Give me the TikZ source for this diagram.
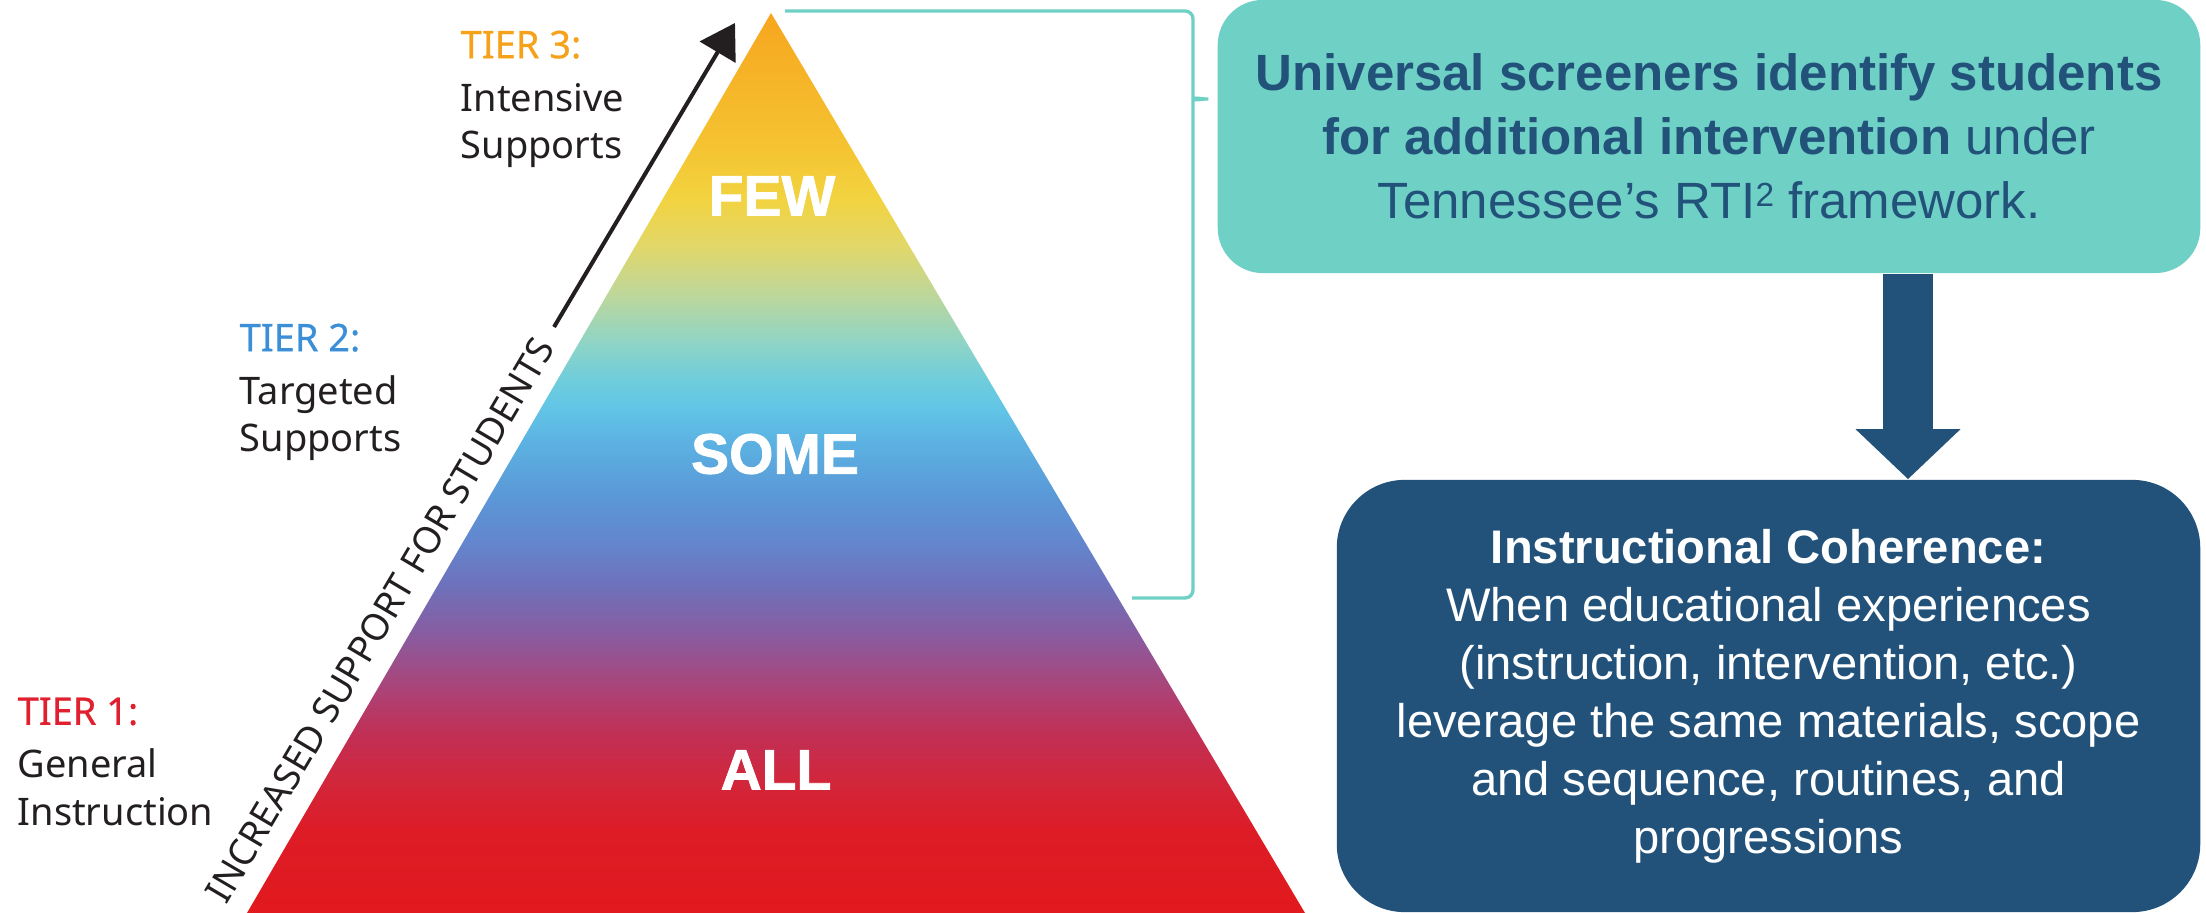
\documentclass[tikz,border=0pt]{standalone}
\usepackage{fontspec}
\setmainfont{Liberation Sans}
\newfontfamily\tierfont{Noto Sans}
\newfontfamily\tierheadfont{Noto Sans}[FakeBold=0.6]
\newfontfamily\levelfont{Liberation Sans}[BoldFeatures={FakeBold=1.4}]
\usetikzlibrary{arrows.meta}

\definecolor{rtiteal}{HTML}{6FD0C6}
\definecolor{rtinavy}{HTML}{22527A}
\definecolor{tierone}{HTML}{E0202E}
\definecolor{tiertwo}{HTML}{3A8FD6}
\definecolor{tierthree}{HTML}{F5A11A}
\definecolor{labelgray}{HTML}{231F20}

% colour stops of the pyramid, bottom to top
\definecolor{pyA}{HTML}{E2191E}
\definecolor{pyB}{HTML}{DD1C26}
\definecolor{pyC}{HTML}{D2263A}
\definecolor{pyD}{HTML}{C12F55}
\definecolor{pyE}{HTML}{A9457A}
\definecolor{pyF}{HTML}{8A5B9E}
\definecolor{pyG}{HTML}{6F70BA}
\definecolor{pyH}{HTML}{6287CF}
\definecolor{pyI}{HTML}{5A9AD8}
\definecolor{pyJ}{HTML}{5CB2E2}
\definecolor{pyK}{HTML}{62C5E6}
\definecolor{pyL}{HTML}{6FCDDA}
\definecolor{pyM}{HTML}{8DD4C8}
\definecolor{pyN}{HTML}{BCD79C}
\definecolor{pyO}{HTML}{E1D76A}
\definecolor{pyP}{HTML}{F2D340}
\definecolor{pyQ}{HTML}{F5C432}
\definecolor{pyR}{HTML}{F6A61E}

\pgfdeclareverticalshading{pyramid}{100bp}{%
  color(0bp)=(pyA); color(25bp)=(pyA); color(29.56bp)=(pyB);
  color(32.22bp)=(pyC); color(34.94bp)=(pyD); color(37.67bp)=(pyE);
  color(40.33bp)=(pyF); color(43.06bp)=(pyG); color(45.78bp)=(pyH);
  color(48.44bp)=(pyI); color(51.17bp)=(pyJ); color(53.06bp)=(pyK);
  color(54.67bp)=(pyL); color(56.56bp)=(pyM); color(59.28bp)=(pyN);
  color(62bp)=(pyO); color(64.67bp)=(pyP); color(67.39bp)=(pyQ);
  color(75bp)=(pyR); color(100bp)=(pyR)}

\begin{document}
\begin{tikzpicture}[x=0.01cm,y=-0.01cm,
  tierlabel/.style={anchor=north west,inner sep=0,align=left,text=labelgray,
    font=\tierfont\fontsize{10.8}{13.4}\selectfont},
  levelword/.style={text=white,inner sep=0,font=\levelfont\bfseries\fontsize{16.2}{18}\selectfont},
  tealbox/.style={fill=rtiteal,rounded corners=0.45cm,inner sep=0,align=center,
    minimum width=9.82cm,minimum height=2.73cm,text=rtinavy,
    font=\fontsize{14.5}{18.2}\selectfont},
  navybox/.style={fill=rtinavy,rounded corners=0.68cm,inner sep=0,align=center,
    minimum width=8.63cm,minimum height=4.32cm,text=white,
    font=\fontsize{13.4}{16.5}\selectfont},
  bracket/.style={draw=rtiteal,line width=0.95pt,rounded corners=0.08cm}]

\useasboundingbox (0,0) rectangle (2206,913);

% Pyramid with its three levels
\shade[shading=pyramid] (771,13) -- (1305,913) -- (247,913) -- cycle;
\node[levelword] (few) at (772,196) {FEW};
\node[levelword] (some) at (775,454) {SOME};
\node[levelword] (all) at (776,770) {ALL};

% Tier labels
\node[tierlabel] (t3) at (460,30) {\textcolor{tierthree}{\tierheadfont TIER 3:}\\[1.7pt]Intensive\\Supports};
\node[tierlabel] (t2) at (239,323) {\textcolor{tiertwo}{\tierheadfont TIER 2:}\\[1.7pt]Targeted\\Supports};
\node[tierlabel] (t1) at (17,697) {\textcolor{tierone}{\tierheadfont TIER 1:}\\[1.7pt]General\\Instruction};

% Support arrow along the left side
\coordinate (arrowtail) at (554,327);
\coordinate (arrowtip) at (735,23);
\draw[labelgray,line width=1.15pt,-{Triangle[length=3.4mm,width=4.1mm]}] (arrowtail) -- (arrowtip);
\node[rotate=59.4,inner sep=0,text=labelgray,font=\tierfont\fontsize{10.5}{12}\selectfont]
  (support) at (380,620) {INCREASED SUPPORT FOR STUDENTS};

% Bracket over tiers 2 and 3
\draw[bracket] (785,11) -| (1193,91) .. controls (1193,97) and (1203,99) .. (1213,99)
  .. controls (1203,99) and (1193,101) .. (1193,107) |- (1132,598);

% Boxes on the right
\node[tealbox] (screen) at (1709,136.5) {\textbf{Universal screeners identify students}\\
  \textbf{for additional intervention} under\\Tennessee’s RTI\raisebox{3.6pt}{\fontsize{9.5}{9.5}\selectfont 2} framework.};
\node[navybox] (coherence) at (1768.5,696) {\textbf{Instructional Coherence:}\\
  When educational experiences\\(instruction, intervention, etc.)\\
  leverage the same materials, scope\\and sequence, routines, and\\progressions};

% Down arrow between the boxes
\coordinate (flow) at (1908,0);
\draw[rtinavy,line width=0.5cm,-{Triangle[length=5mm,width=10.2mm]}]
  (flow |- screen.south) -- (flow |- coherence.north);
\end{tikzpicture}
\end{document}
